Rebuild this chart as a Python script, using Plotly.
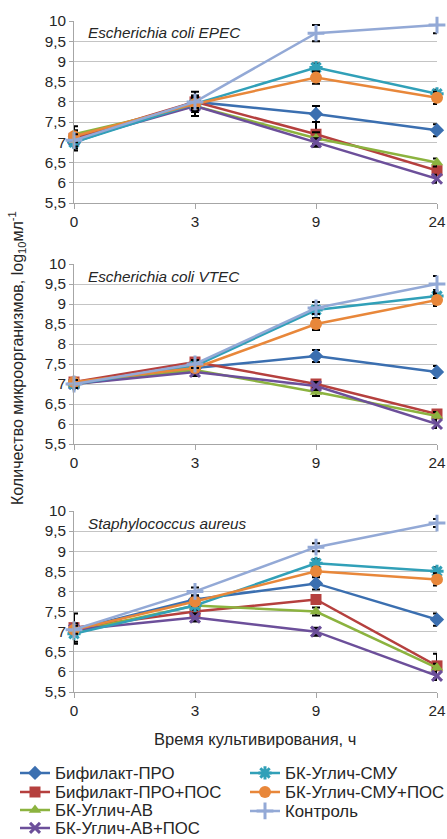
import plotly.graph_objects as go

hours = ["0", "3", "9", "24"]
y_ticks = [5.5, 6, 6.5, 7, 7.5, 8, 8.5, 9, 9.5, 10]
y_ticktext = ["5,5", "6", "6,5", "7", "7,5", "8", "8,5", "9", "9,5", "10"]

series_names = ["Бифилакт-ПРО", "Бифилакт-ПРО+ПОС", "БК-Углич-АВ", "БК-Углич-АВ+ПОС",
                "БК-Углич-СМУ", "БК-Углич-СМУ+ПОС", "Контроль"]
panel_titles = ["Escherichia coli EPEC", "Escherichia coli VTEC", "Staphylococcus aureus"]

# EPEC
epec_values = [
    [7.0, 8.0, 7.7, 7.3],
    [7.1, 8.0, 7.2, 6.3],
    [7.2, 7.9, 7.1, 6.5],
    [7.05, 7.9, 7.0, 6.1],
    [7.0, 7.95, 8.85, 8.2],
    [7.15, 7.95, 8.6, 8.1],
    [7.05, 8.0, 9.7, 9.9],
]
epec_errors = [
    [0.2, 0.15, 0.2, 0.15],
    [0.15, 0.25, 0.3, 0.15],
    [0.2, 0.15, 0.15, 0.1],
    [0.15, 0.25, 0.1, 0.1],
    [0.15, 0.15, 0.1, 0.1],
    [0.15, 0.15, 0.15, 0.15],
    [0.15, 0.15, 0.2, 0.2],
]
# VTEC
vtec_values = [
    [7.0, 7.4, 7.7, 7.3],
    [7.05, 7.55, 7.0, 6.25],
    [7.0, 7.35, 6.8, 6.2],
    [7.0, 7.3, 6.95, 6.0],
    [7.0, 7.45, 8.85, 9.2],
    [7.05, 7.4, 8.5, 9.1],
    [7.0, 7.5, 8.9, 9.5],
]
vtec_errors = [
    [0.1, 0.1, 0.15, 0.15],
    [0.1, 0.1, 0.1, 0.1],
    [0.1, 0.1, 0.1, 0.1],
    [0.1, 0.1, 0.1, 0.1],
    [0.1, 0.1, 0.1, 0.15],
    [0.1, 0.1, 0.15, 0.15],
    [0.1, 0.1, 0.15, 0.2],
]
# S. aureus
saur_values = [
    [7.05, 7.8, 8.2, 7.3],
    [7.1, 7.5, 7.8, 6.15],
    [7.0, 7.65, 7.5, 6.1],
    [7.05, 7.35, 7.0, 5.9],
    [6.95, 7.65, 8.7, 8.5],
    [7.05, 7.75, 8.5, 8.3],
    [7.05, 8.0, 9.1, 9.7],
]
saur_errors = [
    [0.15, 0.1, 0.15, 0.15],
    [0.35, 0.1, 0.1, 0.3],
    [0.1, 0.1, 0.1, 0.1],
    [0.1, 0.1, 0.1, 0.1],
    [0.25, 0.1, 0.1, 0.1],
    [0.1, 0.1, 0.1, 0.15],
    [0.1, 0.1, 0.1, 0.1],
]

panels_values = [epec_values, vtec_values, saur_values]
panels_errors = [epec_errors, vtec_errors, saur_errors]

colors = ["#3b6fb0", "#b5403e", "#8cb33f", "#6c4f9a", "#31a0b8", "#e8873a", "#93a9d6"]
symbols = ["diamond", "square", "triangle-up", "x-thin", "asterisk", "circle", "cross-thin"]
sizes = [11, 11, 11, 10, 11, 12, 12]

FONT = "Liberation Sans, Arial, sans-serif"
TEXT = "#262626"
W, H = 447, 839
# panel pixel extents (top, bottom)
panel_px = [(21, 203), (264, 444), (511, 692)]
x_left, x_right = 74, 437
# legend item placement (px): legend left edge, row centre
legend_pos = [(15, 773), (15, 792), (15, 810), (15, 828),
              (245, 773), (245, 792), (245, 811)]

fig = go.Figure()
for p in range(3):
    xa = "x" if p == 0 else f"x{p+1}"
    ya = "y" if p == 0 else f"y{p+1}"
    for i, name in enumerate(series_names):
        sym = symbols[i]
        open_sym = sym in ("x-thin", "asterisk", "cross-thin")
        marker = dict(symbol=sym, size=sizes[i], color=colors[i],
                      line=dict(color=colors[i], width=3 if open_sym else 0))
        fig.add_trace(go.Scatter(
            x=hours, y=panels_values[p][i], name=name, mode="lines+markers",
            line=dict(color=colors[i], width=2.5), marker=marker,
            error_y=dict(type="data", array=panels_errors[p][i], color="black",
                         thickness=2, width=4),
            xaxis=xa, yaxis=ya, cliponaxis=False,
            showlegend=(p == 0), legend="legend" if i == 0 else f"legend{i+1}",
        ))

layout = dict(
    width=W, height=H, margin=dict(l=0, r=0, t=0, b=0, autoexpand=False),
    paper_bgcolor="white", plot_bgcolor="white",
    font=dict(family=FONT, size=14, color=TEXT),
)
for p in range(3):
    top, bot = panel_px[p]
    sfx = "" if p == 0 else str(p + 1)
    layout["xaxis" + sfx] = dict(
        type="category", categoryorder="array", categoryarray=hours, range=[0, 3],
        domain=[x_left / W, x_right / W], anchor="y" + sfx, automargin=False,
        showline=True, linecolor="#a6a6a6", linewidth=1, showgrid=False,
        ticks="outside", ticklen=5, tickcolor="#a6a6a6",
        tickfont=dict(size=15.3, color=TEXT), zeroline=False,
    )
    layout["yaxis" + sfx] = dict(
        range=[5.5, 10], domain=[1 - bot / H, 1 - top / H], anchor="x" + sfx,
        automargin=False, tickvals=y_ticks, ticktext=y_ticktext,
        showline=True, linecolor="#a6a6a6", linewidth=1,
        showgrid=True, gridcolor="#c4c4c4", gridwidth=1,
        ticks="outside", ticklen=4, tickcolor="#a6a6a6",
        tickfont=dict(size=15.3, color=TEXT), zeroline=False,
    )
for i in range(len(series_names)):
    lx, ly = legend_pos[i]
    key = "legend" if i == 0 else f"legend{i+1}"
    layout[key] = dict(x=lx / W, y=1 - ly / H, xanchor="left", yanchor="middle",
                       orientation="v", font=dict(size=16.8, color=TEXT),
                       bgcolor="rgba(0,0,0,0)", itemwidth=30)
fig.update_layout(**layout)

annotations = []
for p in range(3):
    sfx = "" if p == 0 else str(p + 1)
    top, bot = panel_px[p]
    annotations.append(dict(
        text=f"<i>{panel_titles[p]}</i>", xref=f"x{sfx} domain", yref=f"y{sfx} domain",
        x=(86 - x_left) / (x_right - x_left), y=1 - 12 / (bot - top),
        xanchor="left", yanchor="middle", showarrow=False,
        font=dict(size=15.3, color=TEXT)))
annotations.append(dict(
    text="Время культивирования, ч", xref="paper", yref="paper",
    x=255 / W, y=1 - 739 / H, xanchor="center", yanchor="middle",
    showarrow=False, font=dict(size=16.5, color=TEXT)))
annotations.append(dict(
    text="Количество микроорганизмов, log<sub>10</sub>мл<sup>-1</sup>",
    xref="paper", yref="paper", x=17 / W, y=1 - 358 / H, textangle=-90,
    xanchor="center", yanchor="middle", showarrow=False,
    font=dict(size=16, color=TEXT)))
fig.update_layout(annotations=annotations)

fig.write_html("out.html", config={"displayModeBar": False},
               post_script="document.body.style.margin='0';"
                           "document.body.style.overflow='hidden';")
